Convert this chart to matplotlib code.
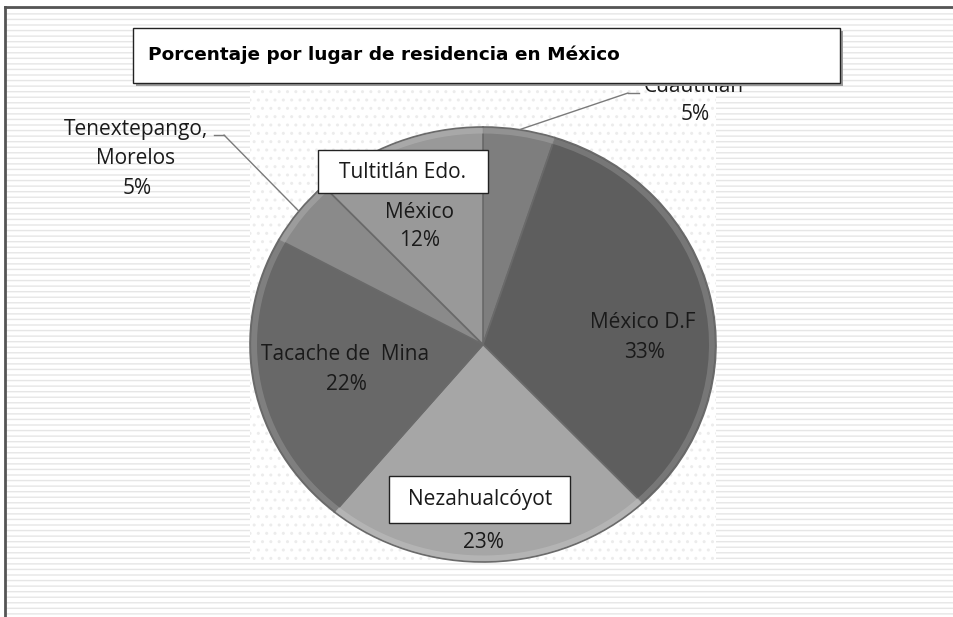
import numpy as np
import matplotlib.pyplot as plt
from matplotlib.patches import Rectangle
from matplotlib.lines import Line2D
from matplotlib.colors import to_rgb

# data
places = ['Cuautitlán', 'México D.F', 'Nezahualcóyot', 'Tacache de  Mina',
          'Tenextepango, Morelos', 'Tultitlán Edo. México']
shares = [5, 33, 23, 22, 5, 12]
shades = ['#7e7e7e', '#5e5e5e', '#a6a6a6', '#686868', '#8a8a8a', '#999999']
title = 'Porcentaje por lugar de residencia en México'

W, H = 954, 617
fig = plt.figure(figsize=(W / 100, H / 100), dpi=100)


def px(x, y):
    """pixel position measured from top-left -> figure fraction"""
    return x / W, 1 - y / H


def box(x0, y0, x1, y1, **kw):
    fx0, fy1 = px(x0, y0)
    fx1, fy0 = px(x1, y1)
    r = Rectangle((fx0, fy0), fx1 - fx0, fy1 - fy0, transform=fig.transFigure, **kw)
    fig.patches.append(r)
    return r


# chart area background with light stripe texture
box(5, 7, W, H, facecolor='white', edgecolor='#e6e6e6', hatch='---', linewidth=0, zorder=-2)
# plot area with dotted texture
box(250, 85, 716, 562, facecolor='white', edgecolor='#ececec', hatch='..', linewidth=0, zorder=-1)
# frame on top and left
fig.lines.append(Line2D([5 / W, 1], [1 - 7 / H] * 2, transform=fig.transFigure, color='#555555', lw=2))
fig.lines.append(Line2D([5 / W] * 2, [0, 1 - 7 / H], transform=fig.transFigure, color='#555555', lw=2))

# pie axes (slightly wider than tall like the original)
l, t = px(250, 127)
r, b = px(716, 562)
ax = fig.add_axes([l, b, r - l, t - b])
ax.set_zorder(1)
ax.patch.set_alpha(0)
wedges, _ = ax.pie(shares, colors=shades, startangle=90, counterclock=False, radius=1,
                   wedgeprops=dict(edgecolor='#6a6a6a', linewidth=1.2))
# soft bevel rim
rim = [tuple(0.8 * c + 0.2 for c in to_rgb(s)) for s in shades]
ax.pie(shares, colors=rim, startangle=90, counterclock=False, radius=0.995,
       wedgeprops=dict(width=0.025, edgecolor='none', alpha=0.8))
ax.set_aspect('auto')
ax.set_xlim(-1, 1)
ax.set_ylim(-1, 1)
ax.axis('off')

lbl = dict(fontsize=15, family='Open Sans', color='#1a1a1a', ha='center', va='center', zorder=3)

# leader lines from slice edge
cum = np.cumsum([0] + shares)
mid = [90 - 360 * (cum[i] + cum[i + 1]) / 200 for i in range(len(shares))]
for i, (ex, ey, hx) in {0: (628, 93, 639), 4: (224, 135, 214)}.items():
    a = np.deg2rad(mid[i])
    ax.annotate('', xy=(np.cos(a), np.sin(a)), xycoords='data',
                xytext=px(ex, ey), textcoords='figure fraction', annotation_clip=False,
                arrowprops=dict(arrowstyle='-', color='#7a7a7a', lw=1, shrinkA=0, shrinkB=0))
    fig.lines.append(Line2D([ex / W, hx / W], [1 - ey / H] * 2, transform=fig.transFigure,
                            color='#7a7a7a', lw=1))

fig.text(*px(694, 86), 'Cuautitlán', **lbl)
fig.text(*px(695, 115), f'{shares[0]}%', **lbl)
fig.text(*px(643, 323), places[1], **lbl)
fig.text(*px(645, 352), f'{shares[1]}%', **lbl)
fig.text(*px(483, 542), f'{shares[2]}%', **lbl)
fig.text(*px(345, 355), places[3], **lbl)
fig.text(*px(346, 384), f'{shares[3]}%', **lbl)
fig.text(*px(136, 129), 'Tenextepango,', **lbl)
fig.text(*px(136, 158), 'Morelos', **lbl)
fig.text(*px(137, 188), f'{shares[4]}%', **lbl)
fig.text(*px(420, 212), 'México', **lbl)
fig.text(*px(420, 241), f'{shares[5]}%', **lbl)

# white label boxes drawn on top
box(318, 150, 488, 193, facecolor='white', edgecolor='#222222', linewidth=1, zorder=5)
fig.text(*px(403, 172), 'Tultitlán Edo.', **{**lbl, 'zorder': 6})
box(389, 476, 570, 523, facecolor='white', edgecolor='#222222', linewidth=1, zorder=5)
fig.text(*px(480, 500), places[2], **{**lbl, 'zorder': 6})

# title box
box(136, 31, 843, 86, facecolor='#9a9a9a', linewidth=0, zorder=4.5)
box(133, 28, 840, 83, facecolor='white', edgecolor='#222222', linewidth=1, zorder=5)
fig.text(*px(148, 55), title, fontsize=13.3, fontweight='bold', color='black',
         ha='left', va='center', zorder=6)

fig.savefig('out.png', dpi=100)
